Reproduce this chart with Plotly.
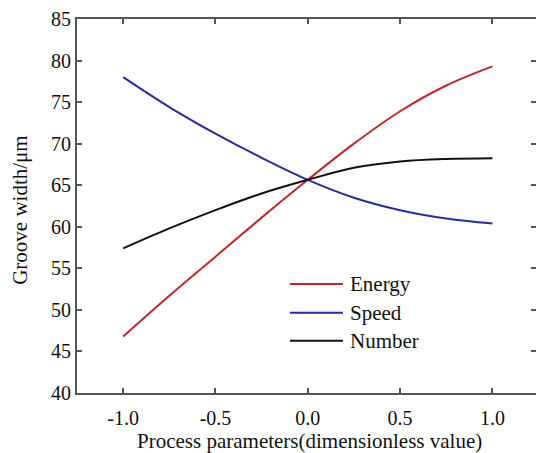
import plotly.graph_objects as go

# ---- data ----
x_vals = [-1.0, -0.75, -0.5, -0.25, 0.0, 0.25, 0.5, 0.75, 1.0]
energy = [46.8, 51.7, 56.4, 61.1, 65.65, 70.0, 73.9, 77.0, 79.3]
speed = [78.0, 74.4, 71.2, 68.3, 65.65, 63.5, 62.0, 61.0, 60.4]
number = [57.4, 59.8, 62.0, 64.0, 65.65, 67.1, 67.85, 68.15, 68.25]

series_names = ["Energy", "Speed", "Number"]
series_values = [energy, speed, number]
series_colors = ["#c3262c", "#2a2aa0", "#111111"]

x_tickvals = [-1.0, -0.5, 0.0, 0.5, 1.0]
x_ticktext = ["-1.0", "-0.5", "0.0", "0.5", "1.0"]
y_tickvals = [40, 45, 50, 55, 60, 65, 70, 75, 80, 85]

x_title = "Process parameters(dimensionless value)"
y_title = "Groove width/μm"

FONT = "Liberation Serif, Times New Roman, serif"
AXIS_COLOR = "#555555"

fig = go.Figure()
for name, vals, col in zip(series_names, series_values, series_colors):
    fig.add_trace(go.Scatter(x=x_vals, y=vals, mode="lines", name=name,
                             line=dict(color=col, width=2, shape="spline", smoothing=1.0),
                             showlegend=False))
# invisible trace for right-side tick axis
fig.add_trace(go.Scatter(x=[x_vals[0]], y=[energy[0]], yaxis="y2", mode="markers",
                         marker=dict(opacity=0), showlegend=False, hoverinfo="skip"))

# manual legend
leg_y = [0.2914, 0.2147, 0.1398]
for name, col, ly in zip(series_names, series_colors, leg_y):
    fig.add_shape(type="line", xref="paper", yref="paper", x0=0.464, x1=0.5795,
                  y0=ly, y1=ly, line=dict(color=col, width=2))
    fig.add_annotation(xref="paper", yref="paper", x=0.5904, y=ly, text=name,
                       showarrow=False, xanchor="left", yanchor="middle",
                       font=dict(family=FONT, size=21, color="#111111"))

# axis titles
fig.add_annotation(xref="paper", yref="paper", x=0.506, y=-0.092, text=x_title,
                   showarrow=False, xanchor="center", yanchor="top",
                   font=dict(family=FONT, size=21, color="#111111"))
fig.add_annotation(xref="paper", yref="paper", x=-0.124, y=0.49, text=y_title,
                   showarrow=False, xanchor="center", yanchor="middle", textangle=-90,
                   font=dict(family=FONT, size=21, color="#111111"))

fig.update_layout(
    width=536, height=453,
    margin=dict(l=77, r=0, t=19, b=60),
    paper_bgcolor="white", plot_bgcolor="white",
    font=dict(family=FONT, size=20, color="#111111"),
    xaxis=dict(range=[-1.25, 1.236], tickvals=x_tickvals, ticktext=x_ticktext,
               showline=True, linecolor=AXIS_COLOR, linewidth=2, mirror="ticks",
               ticks="inside", ticklen=5, tickwidth=2, tickcolor=AXIS_COLOR,
               showgrid=False, zeroline=False, ticklabelstandoff=6),
    yaxis=dict(range=[40, 85], tickvals=y_tickvals,
               showline=True, linecolor=AXIS_COLOR, linewidth=2,
               ticks="inside", ticklen=5, tickwidth=2, tickcolor=AXIS_COLOR,
               showgrid=False, zeroline=False),
    yaxis2=dict(range=[40, 85], tickvals=y_tickvals, overlaying="y", side="right",
                showline=False, showticklabels=False,
                ticks="inside", ticklen=5, tickwidth=2, tickcolor=AXIS_COLOR,
                showgrid=False, zeroline=False),
)

fig.write_html("out.html")
